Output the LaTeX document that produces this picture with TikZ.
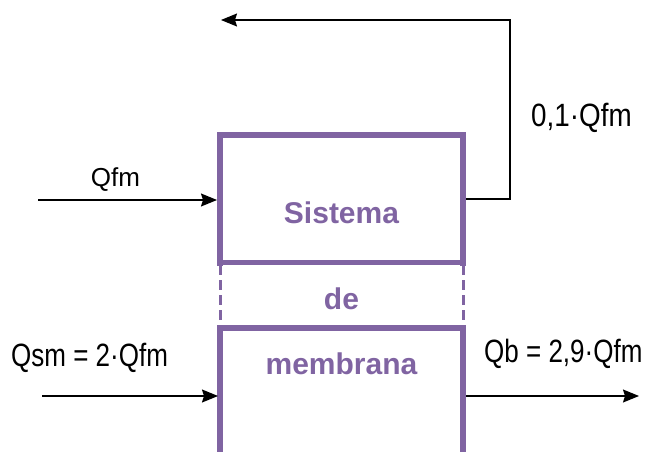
\documentclass[tikz,border=0pt]{standalone}
\usepackage{fontspec}
\usepackage{graphicx}
\setmainfont{Liberation Sans}
\usetikzlibrary{arrows.meta}
\definecolor{boxpurple}{HTML}{8064A2}
\tikzset{
  flow/.style={draw=black, line width=1.2pt, -{Stealth[length=16pt,width=13pt,inset=2pt]}},
  boxline/.style={draw=boxpurple, line width=6pt},
  sepline/.style={draw=boxpurple, line width=5pt},
  dashside/.style={draw=boxpurple, line width=3pt, dash pattern=on 10pt off 5pt},
  lbl/.style={inner sep=0pt, font=\fontsize{26}{30}\selectfont, text=black},
  sys/.style={inner sep=0pt, font=\fontsize{30}{36}\selectfont\bfseries, text=boxpurple}
}
\begin{document}
\begin{tikzpicture}[x=1pt,y=-1pt]
\useasboundingbox (0,0) rectangle (646,452);
\clip (0,0) rectangle (646,452);
% box geometry
\coordinate (tl) at (220,135);
\coordinate (tr) at (463,135);
\coordinate (ubl) at (220,262.5);
\coordinate (ubr) at (463,262.5);
\coordinate (lbl) at (220,327.5);
\coordinate (lbr) at (463,327.5);
\coordinate (bl) at (220,460);
\coordinate (br) at (463,460);
% upper box
\draw[boxline, line cap=rect] (ubl) -- (tl) -- (tr) -- (ubr);
\draw[sepline] (217,262.5) -- (466,262.5);
% dashed middle sides
\draw[dashside] (220,265) -- (220,325);
\draw[dashside] (463,265) -- (463,325);
% lower box
\draw[boxline, line cap=rect] (bl) -- (lbl) -- (lbr) -- (br);
% texts in box
\node[sys, anchor=base] (t1) at (341.5,223) {Sistema};
\node[sys, anchor=base] (t2) at (341.5,309) {de};
\node[sys, anchor=base] (t3) at (341.5,374) {membrana};
% connection points
\coordinate (qfmstart) at (38,200);
\coordinate (qfmend) at (217,200);
\coordinate (qsmstart) at (42,396);
\coordinate (qsmend) at (218,396);
\coordinate (qbstart) at (466,396);
\coordinate (qbend) at (639,396);
\coordinate (recstart) at (466,199);
\coordinate (reccorner1) at (510,199);
\coordinate (reccorner2) at (510,20);
\coordinate (recend) at (221,20);
% arrows
\draw[flow] (qfmstart) -- (qfmend);
\draw[flow] (qsmstart) -- (qsmend);
\draw[flow] (qbstart) -- (qbend);
\draw[flow] (recstart) -- (reccorner1) -- (reccorner2) -- (recend);
% labels
\node[lbl, anchor=base] (l1) at (115.5,186.5) {Qfm};
\node[lbl, anchor=base west] (l2) at (11,366.5) {\scalebox{1}[1.24]{Qsm = 2·Qfm}};
\node[lbl, anchor=base west] (l3) at (531,126.5) {\scalebox{1.07}[1.24]{0,1·Qfm}};
\node[lbl, anchor=base west] (l4) at (484,362.5) {\scalebox{1}[1.24]{Qb = 2,9·Qfm}};
\end{tikzpicture}
\end{document}
